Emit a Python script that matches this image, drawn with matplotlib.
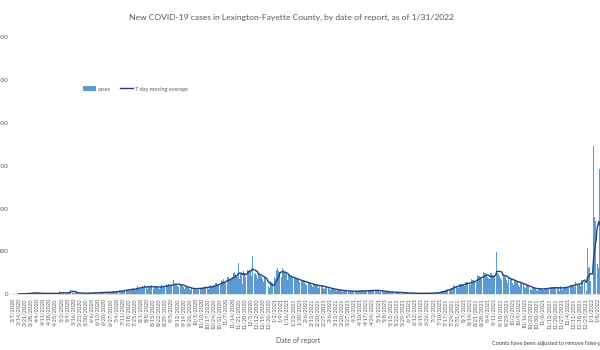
import numpy as np
import pandas as pd
import matplotlib
matplotlib.use("Agg")
import matplotlib.pyplot as plt

plt.rcParams["font.family"] = ["Lato", "DejaVu Sans"]

START = "2020-03-07"
LAST_LABEL = "2022-01-08"  # rightmost date label that fits in the picture

# daily new cases, one row per week (Sat..Fri)
weeks = [
    [0, 0, 1, 0, 1, 2, 1],
    [2, 1, 3, 2, 4, 3, 5],
    [4, 6, 5, 8, 7, 9, 6],
    [10, 14, 9, 18, 12, 15, 11],
    [9, 6, 8, 11, 7, 10, 8],
    [6, 5, 9, 7, 8, 6, 9],
    [7, 6, 8, 9, 5, 8, 7],
    [8, 5, 10, 9, 7, 40, 9],
    [11, 8, 14, 12, 15, 10, 16],
    [18, 12, 25, 46, 70, 22, 20],
    [15, 10, 18, 14, 16, 12, 17],
    [6, 4, 9, 8, 10, 7, 9],
    [10, 8, 14, 12, 15, 11, 13],
    [13, 10, 16, 18, 15, 17, 14],
    [16, 12, 20, 19, 22, 17, 20],
    [18, 14, 22, 20, 24, 19, 23],
    [22, 17, 28, 25, 30, 24, 29],
    [30, 20, 35, 38, 42, 33, 40],
    [40, 32, 48, 45, 60, 42, 50],
    [50, 38, 62, 58, 55, 70, 52],
    [62, 48, 75, 90, 68, 80, 72],
    [70, 55, 88, 85, 110, 78, 82],
    [80, 60, 95, 90, 88, 105, 82],
    [75, 58, 90, 85, 80, 98, 74],
    [78, 62, 95, 110, 88, 90, 82],
    [92, 75, 115, 105, 120, 98, 100],
    [100, 80, 125, 166, 118, 110, 105],
    [98, 82, 120, 130, 110, 105, 95],
    [78, 60, 90, 95, 82, 80, 75],
    [60, 45, 70, 68, 72, 62, 58],
    [62, 48, 75, 72, 70, 65, 63],
    [70, 55, 85, 82, 90, 75, 68],
    [80, 62, 95, 100, 92, 88, 78],
    [105, 80, 125, 130, 115, 110, 105],
    [130, 100, 160, 155, 170, 140, 125],
    [165, 130, 200, 195, 180, 190, 165],
    [200, 160, 245, 260, 230, 210, 200],
    [360, 180, 260, 250, 230, 120, 270],
    [240, 200, 300, 290, 280, 265, 280],
    [260, 210, 440, 280, 250, 230, 240],
    [220, 170, 250, 240, 230, 210, 200],
    [180, 140, 200, 190, 175, 160, 0],
    [90, 70, 150, 140, 130, 110, 0],
    [200, 180, 280, 300, 270, 260, 250],
    [240, 200, 300, 280, 260, 240, 230],
    [190, 160, 220, 215, 210, 200, 190],
    [170, 140, 200, 185, 180, 170, 165],
    [145, 120, 175, 160, 155, 150, 140],
    [120, 100, 145, 135, 130, 125, 120],
    [100, 80, 120, 115, 110, 105, 100],
    [90, 70, 110, 105, 100, 95, 92],
    [72, 55, 88, 85, 80, 75, 70],
    [55, 42, 68, 65, 62, 58, 56],
    [44, 32, 52, 50, 48, 45, 44],
    [36, 28, 45, 42, 40, 38, 37],
    [30, 22, 38, 36, 34, 32, 30],
    [31, 24, 38, 37, 35, 33, 32],
    [34, 26, 42, 40, 38, 37, 35],
    [38, 30, 46, 44, 42, 41, 39],
    [41, 32, 50, 48, 46, 44, 40],
    [34, 26, 40, 38, 37, 35, 33],
    [24, 18, 30, 28, 27, 25, 23],
    [19, 14, 24, 22, 21, 20, 19],
    [15, 11, 19, 18, 17, 16, 15],
    [11, 8, 14, 13, 12, 12, 11],
    [9, 7, 12, 11, 10, 10, 9],
    [7, 5, 10, 9, 8, 8, 8],
    [7, 5, 9, 9, 8, 9, 8],
    [9, 6, 12, 11, 10, 11, 10],
    [12, 4, 10, 16, 18, 17, 20],
    [24, 18, 32, 35, 34, 33, 36],
    [48, 40, 62, 60, 58, 56, 60],
    [75, 60, 100, 95, 92, 90, 85],
    [95, 75, 120, 115, 112, 110, 108],
    [115, 90, 145, 140, 135, 130, 120],
    [130, 100, 170, 165, 160, 150, 140],
    [170, 140, 225, 210, 205, 195, 185],
    [200, 165, 260, 250, 240, 230, 195],
    [190, 150, 170, 250, 240, 225, 210],
    [210, 180, 280, 490, 240, 230, 215],
    [190, 160, 250, 240, 230, 220, 200],
    [160, 130, 200, 190, 185, 180, 175],
    [130, 105, 170, 160, 155, 150, 145],
    [110, 85, 140, 135, 130, 125, 115],
    [80, 65, 105, 100, 98, 92, 90],
    [58, 45, 75, 72, 70, 68, 66],
    [52, 40, 66, 65, 62, 60, 61],
    [58, 45, 75, 72, 70, 68, 67],
    [65, 50, 85, 80, 78, 75, 73],
    [65, 50, 90, 85, 80, 35, 95],
    [68, 52, 88, 85, 82, 80, 70],
    [85, 65, 115, 110, 105, 100, 95],
    [105, 80, 135, 130, 125, 120, 110],
    [120, 95, 160, 155, 310, 150, 140],
    [0, 30, 540, 300, 310, 330, 150],
    [0, 0, 1721, 900, 850, 780, 1000],
    [350, 300, 1450, 1100, 1050, 980, 1020],
    [400, 320, 0, 1300, 1000, 950, 900],
    [380, 300, 1200, 900, 850, 800, 760],
    [300, 250, 900],
]

cases = [v for w in weeks for v in w]
dates = pd.date_range(START, periods=len(cases), freq="D")
df = pd.DataFrame({"cases": cases}, index=dates)
df["avg"] = df["cases"].rolling(7).mean()

y_ticks = [0, 500, 1000, 1500, 2000, 2500, 3000]

fig = plt.figure(figsize=(6, 3.5), dpi=100)
ax = fig.add_axes([0.0205, 0.16, 1.01, 0.737])

x = np.arange(len(df))
bars = ax.bar(x, df["cases"], width=0.9, color="#5B9BD5", linewidth=0, label="cases")
line, = ax.plot(x, df["avg"], color="#264478", linewidth=1.0, label="7 day moving average")

ax.set_xlim(-0.5, len(df) - 0.5)
ax.set_ylim(0, 3000)
ax.set_yticks(y_ticks)
ax.set_yticklabels([f"{t:,}" for t in y_ticks], fontsize=4.5, color="#595959")

label_dates = pd.date_range(START, LAST_LABEL, freq="7D")
ax.set_xticks(np.arange(0, len(label_dates) * 7, 7))
ax.set_xticklabels([f"{d.month}/{d.day}/{d.year}" for d in label_dates],
                   rotation=90, fontsize=4, color="#595959")
ax.tick_params(axis="both", length=0, pad=3)

for s in ["top", "right", "left"]:
    ax.spines[s].set_visible(False)
ax.spines["bottom"].set_color("#D9D9D9")
ax.spines["bottom"].set_linewidth(0.6)

fig.text(0.485, 0.95, "New COVID-19 cases in Lexington-Fayette County, by date of report, as of 1/31/2022",
         ha="center", va="center", fontsize=6.1, color="#595959")
fig.text(0.497, 0.028, "Date of report", ha="center", va="center", fontsize=5, color="#595959")
fig.text(0.82, 0.02, "Counts have been adjusted to remove false-positive results.",
         ha="left", va="center", fontsize=4, color="#404040")

fig.legend(handles=[bars, line], loc="center left", bbox_to_anchor=(0.13, 0.746), ncol=2,
           frameon=False, fontsize=4, handlelength=2.4, handleheight=0.9, columnspacing=1.6,
           handletextpad=0.3, labelcolor="#595959")

fig.savefig("out.png", dpi=100)
